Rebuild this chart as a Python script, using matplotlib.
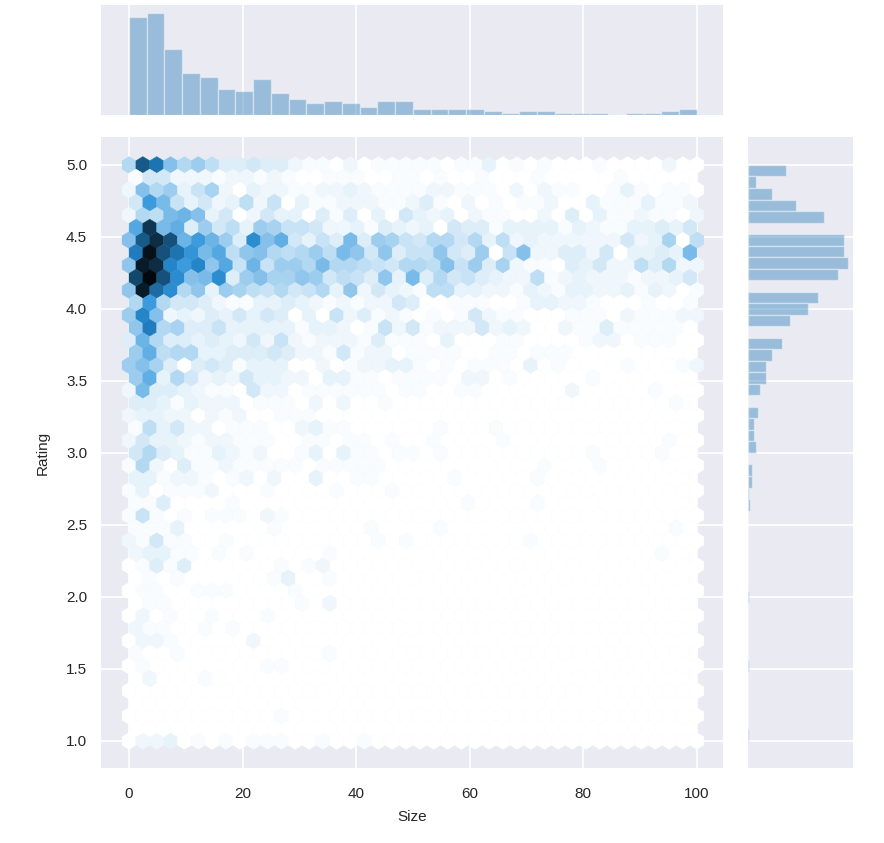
#  Rating vs Size joint hexbin
import colorsys
import numpy as np
import matplotlib
matplotlib.use("Agg")
import matplotlib.pyplot as plt
from matplotlib.colors import LinearSegmentedColormap, PowerNorm, to_rgb

# top marginal: counts per Size bin (32 bins over 0-100)
size_counts = [49, 51, 33, 21, 19, 13, 12, 18, 11, 8, 6, 7, 6, 4, 7, 7,
               3, 3, 3, 3, 2, 1, 2, 2, 1, 1, 1, 0, 1, 1, 2, 3]

# right marginal: counts per Rating bin, from 5.0 down to 1.0 (50 bins)
rating_counts = [19, 4, 12, 24, 38, 0, 48, 48, 50, 45, 0, 35, 30, 21, 0, 17, 12,
                 9, 9, 6, 0, 5, 3, 3, 4, 0, 2, 2, 0.3, 1, 0, 0, 0, 0, 0, 0, 0,
                 0.3, 0, 0, 0, 0, 0, 0.3, 0, 0, 0, 0, 0, 0.5]

# hexbin cell levels, base 36, one string per hex row from Rating 5.0 down to 1.0
# missing characters at the end of a row are empty cells
hex_rows = [
    "8qnc8a744544211020111110113010100010000200",
    "15522212212100111001101001000100000100000",
    "2c8a36920322112232111122111020211001310110",
    "5id63523726031122211241020101120031113112",
    "287dec350253304140305323021100204031121102",
    "gudf4a573a9665223143230544133331321133435",
    "cqvreiea4kcf5364d4a96588583723222222523907",
    "myrnjdg7bc878a7db5b466b54a06c22442503343d",
    "bxvlilbg6e6aa8d88765887c6a4921104352274822",
    "szrkcdk4ac99ba5764b3d48564322712322212235",
    "bxok8b3a97685683b2532177332213213322313201",
    "8i855421133432121225400111001332210001001",
    "alc232435354030624121010152110001110211122",
    "bm894463333313320162512225232002114111110",
    "4e8443432526212221411103000110000122011100",
    "af788334445422151220111100110111000000000",
    "ac9404541333002012233101011103010000100012",
    "af385232533220331101111022010000010000000",
    "2d4432110522011111101100110000002000001000",
    "44313222011102020010000000000000000000010",
    "23322021200111",
    "173522011100231100000010001",
    "2533212211100110110100100001000000000001",
    "584311321200130311011010000000000100001",
    "18204112111110111110000000000010001",
    "331221012020030011000001000001",
    "13011120001000010001",
    "114000010000000000000000100001",
    "161010111021",
    "1113000000100000010000100000000000000001",
    "215110010000000000101000000001",
    "233110101000001000000000000000000000001",
    "014140000001012",
    "010100000013001",
    "0110011100001",
    "011000000000102",
    "02010010001",
    "21100101",
    "0221000002",
    "100100000000001",
    "010000000011",
    "020001",
    "",
    "",
    "000000000001",
    "",
    "022301010111001001",
]

plt.rcParams['font.family'] = ['Liberation Sans', 'DejaVu Sans']
plt.rcParams['axes.facecolor'] = '#EAEAF2'
plt.rcParams['axes.axisbelow'] = True
plt.rcParams['grid.color'] = 'white'
plt.rcParams['grid.linewidth'] = 1.2
plt.rcParams['text.color'] = '.15'
plt.rcParams['axes.labelcolor'] = '.15'
plt.rcParams['xtick.color'] = '.15'
plt.rcParams['ytick.color'] = '.15'

W, H = 884, 843
color = '#1f77b4'


def box(left, top, right, bottom):
    return [left/W, 1 - bottom/H, (right-left)/W, (bottom-top)/H]


fig = plt.figure(figsize=(W/100, H/100), dpi=100)
ax = fig.add_axes(box(101, 137, 723, 768))
ax_top = fig.add_axes(box(101, 5, 723, 115))
ax_right = fig.add_axes(box(748, 137, 853, 768))

# white -> blue -> black, same hue all the way
h, l, s = colorsys.rgb_to_hls(*to_rgb(color))
ramp = [colorsys.hls_to_rgb(h, v, s) for v in np.linspace(1, 0, 12)]
cmap = LinearSegmentedColormap.from_list('hexblue', ramp)

gx, gy, gc = [], [], []
nx, ny = 41, 23
dx = 100 / nx
dy = 4 / (2*ny)
for i, row in enumerate(hex_rows):
    n = nx + 1 if i % 2 == 0 else nx
    offset = 0 if i % 2 == 0 else dx/2
    for k in range(n):
        gx.append(offset + k*dx)
        gy.append(5 - i*dy)
        gc.append(int(row[k], 36) if k < len(row) else 0)

ax.hexbin(gx, gy, C=gc, gridsize=(nx, ny), extent=(0, 100, 1, 5),
          reduce_C_function=np.sum, cmap=cmap, norm=PowerNorm(1.15, vmin=0, vmax=36),
          edgecolors='face', linewidths=0.3)
ax.set_xlim(-4.93, 104.6)
ax.set_ylim(0.8125, 5.194)
ax.set_xticks([0, 20, 40, 60, 80, 100])
ax.set_yticks([1.0, 1.5, 2.0, 2.5, 3.0, 3.5, 4.0, 4.5, 5.0])
ax.set_yticklabels(['1.0', '1.5', '2.0', '2.5', '3.0', '3.5', '4.0', '4.5', '5.0'])
ax.tick_params(axis='x', length=0, labelsize=11, pad=14)
ax.tick_params(axis='y', length=0, labelsize=11, pad=10)
ax.set_xlabel('Size', fontsize=11, labelpad=6)
ax.set_ylabel('Rating', fontsize=11, labelpad=12)
ax.grid(True)

size_edges = np.linspace(0, 100, len(size_counts) + 1)
ax_top.bar(size_edges[:-1], size_counts, width=np.diff(size_edges), align='edge',
           color=color, alpha=0.4, edgecolor='white', linewidth=1)
ax_top.set_xlim(ax.get_xlim())
ax_top.set_ylim(0, 55)
ax_top.set_xticks(ax.get_xticks())
ax_top.set_yticks([])
ax_top.tick_params(length=0, labelbottom=False)
ax_top.grid(True, axis='x')

rating_edges = np.linspace(5, 1, len(rating_counts) + 1)
ax_right.barh(rating_edges[:-1], rating_counts, height=np.diff(rating_edges), align='edge',
              color=color, alpha=0.4, edgecolor='white', linewidth=1)
ax_right.set_ylim(ax.get_ylim())
ax_right.set_xlim(0, 52.5)
ax_right.set_yticks(ax.get_yticks())
ax_right.set_xticks([])
ax_right.tick_params(length=0, labelleft=False)
ax_right.grid(True, axis='y')

for a in (ax, ax_top, ax_right):
    for sp in a.spines.values():
        sp.set_visible(False)

fig.savefig('out.png', dpi=100)
